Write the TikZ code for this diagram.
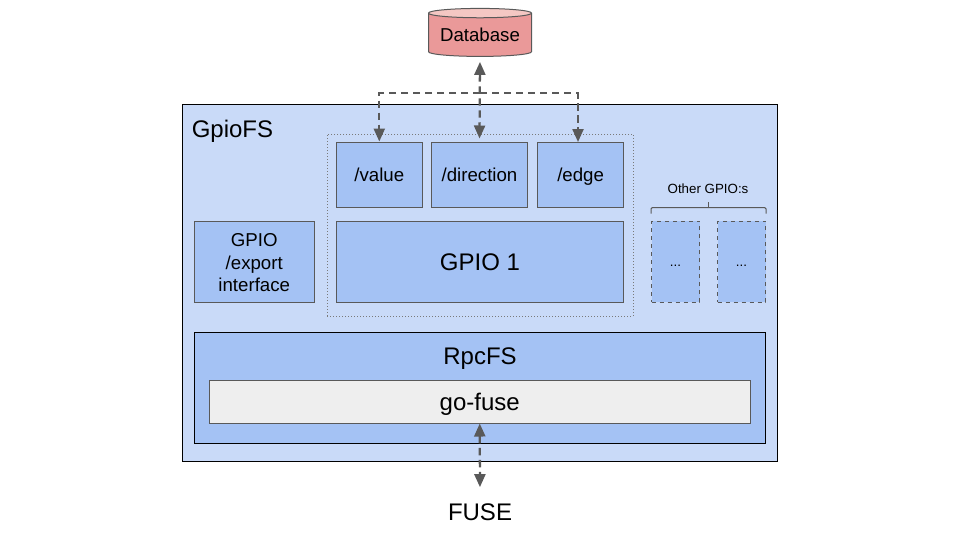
\documentclass[tikz,border=0pt]{standalone}
\usepackage{fontspec}
\setmainfont{Liberation Sans}
\usetikzlibrary{arrows.meta,calc,positioning,shapes.geometric}
\definecolor{my_outer}{HTML}{C9DAF8}
\definecolor{my_inner}{HTML}{A4C2F4}
\definecolor{my_line}{HTML}{595959}
\definecolor{my_red}{HTML}{EA9999}
\definecolor{my_pink}{HTML}{F4C7C3}
\definecolor{my_grey}{HTML}{EEEEEE}
\tikzset{
  boxnode/.style 2 args = {rectangle, align=center, inner sep=0pt, text=black, minimum width=#1*0.75pt, minimum height=#2*0.75pt},
  part_n/.style 2 args = {boxnode={#1}{#2}, draw=my_line, line width=0.75pt, fill=my_inner},
  main_n/.style 2 args = {boxnode={#1}{#2}, draw=black, line width=0.75pt},
  flow/.style = {<->, >={Triangle[length=9.75pt,width=8.25pt]}, my_line, line width=1.7pt, dash pattern=on 5.5pt off 3.5pt}
}

\begin{document}
\begin{tikzpicture}[x=0.75pt,y=-0.75pt,
            small/.style={font=\fontsize{10}{12}\selectfont, text height=7.2pt, text depth=0pt},
            medium/.style={font=\fontsize{14}{16.5}\selectfont, text height=10pt, text depth=0pt},
            large/.style={font=\fontsize{18}{21}\selectfont, text height=12.9pt, text depth=0pt}]
    \useasboundingbox (0,0) rectangle (960,540);
    \node [main_n={595}{356.5}, fill=my_outer] (gpiofs) at (480,282.75) {};
    \node [large, inner sep=0pt, right] (gpiofslabel) at (191.5,129) {GpioFS};
    \node [boxnode={306}{182}, draw=my_line!80, line width=0.5pt, dash pattern=on 0.75pt off 1.5pt] (gpio1group) at (480,225) {};
    % files of the first pin
    \node [part_n={86}{65}, medium] (value) at (379.3,174.5) {/value};
    \node [part_n={96.4}{65}, medium] (direction) at (479.5,174.5) {/direction};
    \node [part_n={86}{65}, medium] (edge) at (580.6,174.5) {/edge};
    \node [part_n={287.4}{81}, large] (gpio1) at (480,261.5) {GPIO 1};
    \node [part_n={120.5}{81}, font=\fontsize{14}{16.9}\selectfont] (export) at (254.25,261.5) {\rule{0pt}{11.5pt}GPIO\\/export\\interface};
    % the other pins
    \node [part_n={48}{81}, small, dashed] (othera) at (675.5,261.5) {...};
    \node [part_n={48}{81}, small, dashed] (otherb) at (741.5,261.5) {...};
    \node [small, inner sep=0pt] (otherlabel) at (708,189) {Other GPIO:s};
    \draw [my_line, line width=0.75pt, rounded corners=1pt] ($(othera.north west)+(0,-7)$) -- ($(othera.north west)+(0,-13)$) -- ($(otherb.north east)+(0,-13)$) -- ($(otherb.north east)+(0,-7)$);
    \draw [my_line, line width=0.75pt] (708.5,208) -- (708.5,202);
    \node [main_n={571.5}{111}, fill=my_inner] (rpcfs) at (479.75,387.5) {};
    \node [large, inner sep=0pt] (rpcfslabel) at (480,356) {RpcFS};
    \node [part_n={541.5}{43}, fill=my_grey, large] (gofuse) at (479.75,401.5) {go-fuse};
    \node [cylinder, shape border rotate=90, aspect=0.117, cylinder uses custom fill, cylinder body fill=my_red, cylinder end fill=my_pink, draw=my_line, line width=0.75pt, minimum width=103*0.75pt, minimum height=48*0.75pt, inner sep=0pt, medium] (database) at (480,35) {Database};
    \node [large, inner sep=0pt] (fuse) at (480,512) {FUSE};
    % connectors
    \coordinate (bus) at (480,93.3);
    \coordinate (edgetop) at (578,142);
    \draw [flow, shorten <=3.75pt, shorten >=2.25pt] (database.south) -- (direction.north);
    \draw [flow, -{Triangle[length=9.75pt,width=8.25pt]}] (bus) -| (value.north);
    \draw [flow, -{Triangle[length=9.75pt,width=8.25pt]}] (bus) -| (edgetop);
    \draw [flow, shorten >=12pt] (gofuse.south) -- (fuse.north);
\end{tikzpicture}
\end{document}
